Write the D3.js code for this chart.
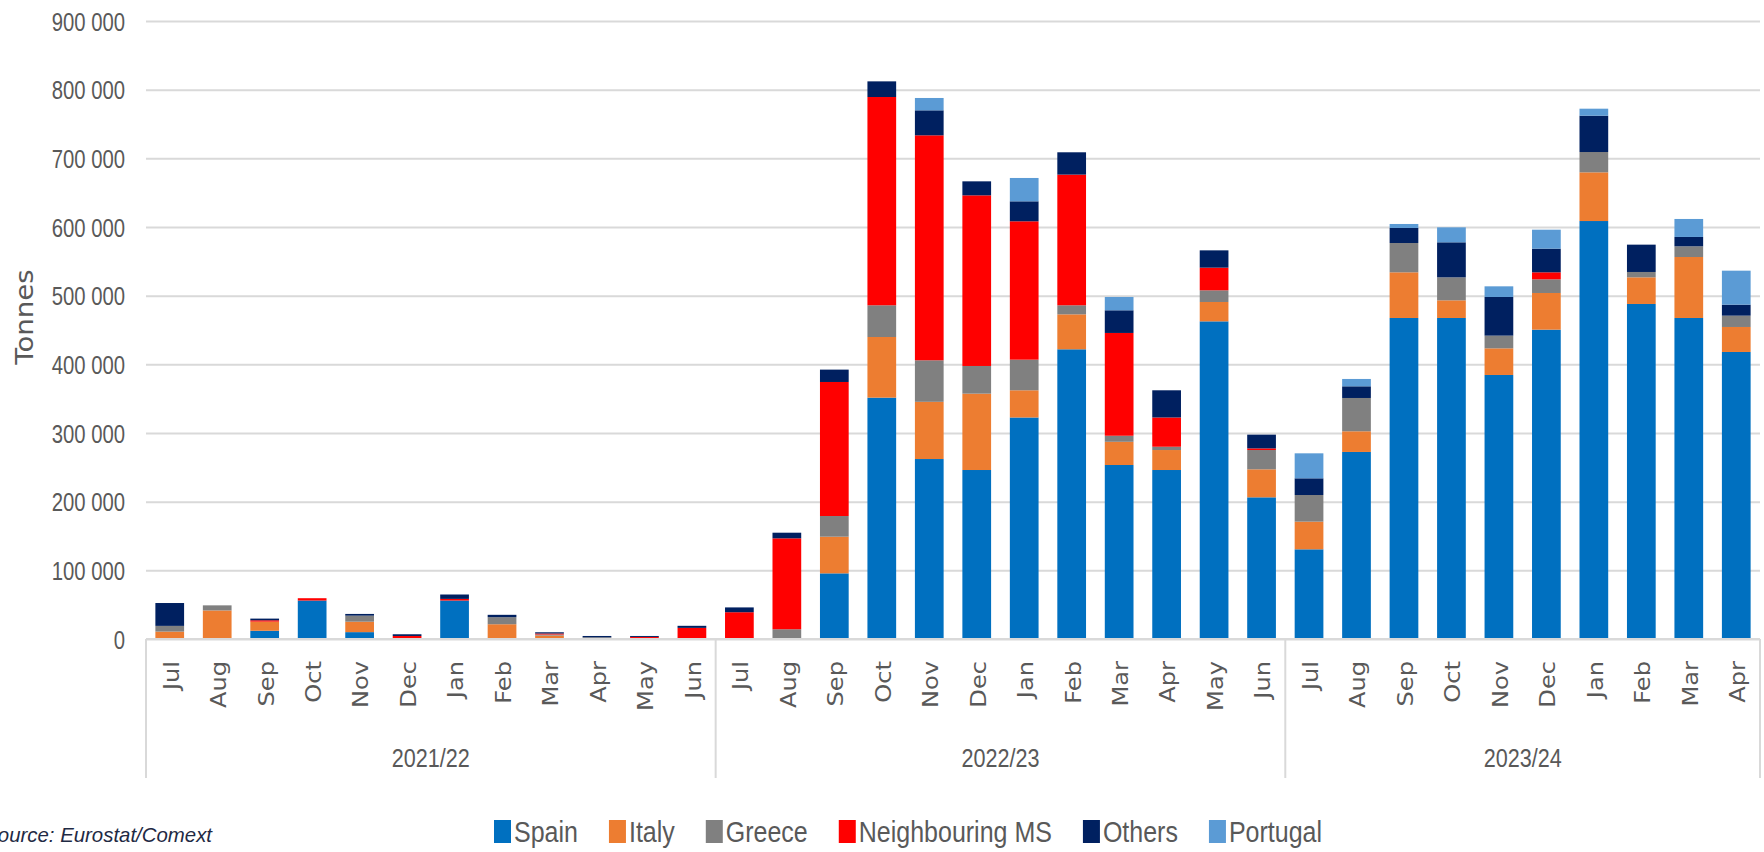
<!DOCTYPE html>
<html>
<head>
<meta charset="utf-8">
<script src="https://cdn.jsdelivr.net/npm/d3@7"></script>
<style>
  body { margin: 0; background: #ffffff; }
  .narrow { font-family: "Liberation Sans", Arial, sans-serif; }
  .wide { font-family: "DejaVu Sans", Verdana, sans-serif; }
</style>
</head>
<body>
<div id="chart"></div>
<script>
// Categories
var seasons = ["2021/22", "2022/23", "2023/24"];
var seasonMonths = [
  ["Jul", "Aug", "Sep", "Oct", "Nov", "Dec", "Jan", "Feb", "Mar", "Apr", "May", "Jun"],
  ["Jul", "Aug", "Sep", "Oct", "Nov", "Dec", "Jan", "Feb", "Mar", "Apr", "May", "Jun"],
  ["Jul", "Aug", "Sep", "Oct", "Nov", "Dec", "Jan", "Feb", "Mar", "Apr"]
];

// Series (tonnes), one value per month in the order above
var spain = [0, 0, 12000, 56000, 10000, 0, 56000, 0, 0, 0, 0, 0,
  0, 0, 95600, 351500, 262100, 246100, 322600, 421900, 253400, 246100, 462600, 206300,
  130600, 272400, 467500, 467500, 384500, 450500, 608700, 487900, 467500, 418000];
var italy = [10800, 41600, 13300, 0, 15200, 0, 0, 21500, 5000, 0, 0, 0,
  0, 0, 53400, 88300, 83300, 111200, 39600, 50900, 33800, 29100, 28200, 40800,
  40300, 30100, 66500, 25700, 38800, 53400, 70900, 38800, 88800, 36400];
var greece = [8300, 7400, 0, 0, 8800, 1400, 0, 10300, 1500, 2500, 1500, 0,
  0, 14200, 30100, 46200, 60500, 40300, 44600, 13200, 8800, 4800, 17000, 28100,
  38800, 48500, 42700, 33500, 18500, 19900, 29600, 7800, 15600, 16500];
var neighbouring = [0, 0, 2000, 3400, 0, 3000, 2400, 0, 1500, 0, 1500, 16200,
  39000, 132400, 195200, 303300, 327600, 248500, 201500, 190300, 149700, 42600, 33000, 2400,
  0, 0, 0, 0, 0, 10200, 0, 0, 0, 0];
var others = [33300, 0, 2400, 0, 2500, 2500, 6400, 3400, 1800, 1900, 1400, 3000,
  7000, 8200, 18000, 22800, 36400, 20400, 29100, 32500, 33000, 39600, 25200, 20000,
  24300, 17000, 21900, 51000, 56300, 34500, 52900, 39800, 13600, 16000];
var portugal = [0, 0, 0, 0, 0, 0, 0, 0, 0, 0, 0, 0,
  0, 0, 0, 0, 18000, 0, 34000, 0, 19400, 0, 0, 0,
  36400, 10700, 5800, 21800, 15500, 27600, 10200, 0, 26200, 49500];

var seriesNames = ["Spain", "Italy", "Greece", "Neighbouring MS", "Others", "Portugal"];
var seriesValues = [spain, italy, greece, neighbouring, others, portugal];
var seriesColors = ["#0070c0", "#ed7d31", "#808080", "#ff0000", "#002060", "#5b9bd5"];

var yTicks = [0, 100000, 200000, 300000, 400000, 500000, 600000, 700000, 800000, 900000];

// Set up chart
var svgWidth = 1764;
var svgHeight = 852;

var margin = {
  top: 21,
  right: 4,
  bottom: 213,
  left: 146
};

var width = svgWidth - margin.left - margin.right;
var height = svgHeight - margin.top - margin.bottom;

var svg = d3.select("#chart")
  .append("svg")
  .attr("width", svgWidth)
  .attr("height", svgHeight);

var chartGroup = svg.append("g")
  .attr("transform", `translate(${margin.left}, ${margin.top})`);

// Build table rows: one per month
var rows = [];
seasons.forEach(function(season, s) {
  seasonMonths[s].forEach(function(month) {
    var i = rows.length;
    var row = { key: season + "-" + month, season: season, month: month };
    seriesNames.forEach(function(name, k) {
      row[name] = seriesValues[k][i];
    });
    rows.push(row);
  });
});

var stackedData = d3.stack().keys(seriesNames)(rows);

// Scales
var xBandScale = d3.scaleBand()
  .domain(rows.map(d => d.key))
  .range([0, width])
  .paddingInner(0.395)
  .paddingOuter(0.1975);

var yLinearScale = d3.scaleLinear()
  .domain([0, 900000])
  .range([height, 0]);

var spaceFormat = d3.formatLocale({ decimal: ".", thousands: " ", grouping: [3], currency: ["", ""] }).format(",d");

// Gridlines + y tick labels (the original text is tall and narrow)
var leftAxis = d3.axisLeft(yLinearScale)
  .tickValues(yTicks)
  .tickSize(-width)
  .tickPadding(21)
  .tickFormat(spaceFormat);

var yAxis = chartGroup.append("g")
  .attr("class", "narrow")
  .call(leftAxis);

yAxis.select(".domain").remove();
yAxis.selectAll(".tick line")
  .attr("stroke", "#d9d9d9")
  .attr("stroke-width", 2);
yAxis.selectAll(".tick text")
  .attr("fill", "#595959")
  .attr("font-size", 20.3)
  .attr("dy", "0.36em")
  .attr("transform", "scale(1, 1.26)");

// Bars
chartGroup.append("g")
  .selectAll("g")
  .data(stackedData)
  .enter()
  .append("g")
  .attr("fill", (d, i) => seriesColors[i])
  .selectAll("rect")
  .data(d => d)
  .enter()
  .append("rect")
  .attr("x", d => xBandScale(d.data.key))
  .attr("width", xBandScale.bandwidth())
  .attr("y", d => yLinearScale(d[1]))
  .attr("height", d => yLinearScale(d[0]) - yLinearScale(d[1]));

// Month labels
var bottomAxis = d3.axisBottom(xBandScale)
  .tickSize(0)
  .tickFormat(k => k.split("-")[1]);

var xAxis = chartGroup.append("g")
  .attr("class", "wide")
  .attr("transform", `translate(0, ${height})`)
  .call(bottomAxis);

xAxis.select(".domain").remove();
xAxis.selectAll(".tick text")
  .attr("transform", "rotate(-90) scale(1.15, 1)")
  .attr("x", -22 / 1.15)
  .attr("y", 0)
  .attr("dy", "0.42em")
  .attr("text-anchor", "end")
  .attr("fill", "#595959")
  .attr("font-size", 21);

// Zero line
chartGroup.append("line")
  .attr("x1", 0)
  .attr("x2", width)
  .attr("y1", yLinearScale(0))
  .attr("y2", yLinearScale(0))
  .attr("stroke", "#d9d9d9")
  .attr("stroke-width", 2);

// Season separators and labels
var gap = (xBandScale.step() - xBandScale.bandwidth()) / 2;
var seasonBounds = [];
var idx = 0;
seasonMonths.forEach(function(months) {
  var first = rows[idx].key;
  var last = rows[idx + months.length - 1].key;
  seasonBounds.push([xBandScale(first) - gap, xBandScale(last) + xBandScale.bandwidth() + gap]);
  idx += months.length;
});

var sepXs = seasonBounds.map(b => b[0]).concat([seasonBounds[seasonBounds.length - 1][1]]);

chartGroup.selectAll(".sep")
  .data(sepXs)
  .enter()
  .append("line")
  .attr("class", "sep")
  .attr("x1", d => d)
  .attr("x2", d => d)
  .attr("y1", height)
  .attr("y2", height + 139)
  .attr("stroke", "#d9d9d9")
  .attr("stroke-width", 2);

chartGroup.selectAll(".seasonLabel")
  .data(seasons)
  .enter()
  .append("text")
  .attr("class", "seasonLabel narrow")
  .attr("transform", (d, i) => `translate(${(seasonBounds[i][0] + seasonBounds[i][1]) / 2}, ${height + 128}) scale(1, 1.2)`)
  .attr("text-anchor", "middle")
  .attr("fill", "#595959")
  .attr("font-size", 21.6)
  .text(d => d);

// Y axis title
svg.append("text")
  .attr("class", "wide")
  .attr("transform", "rotate(-90) scale(1.15, 1)")
  .attr("x", -317 / 1.15)
  .attr("y", 33)
  .attr("text-anchor", "middle")
  .attr("fill", "#595959")
  .attr("font-size", 24)
  .text("Tonnes");

// Legend
var legend = svg.append("g")
  .attr("class", "narrow")
  .attr("transform", "translate(494, 843)");

var legendX = 0;
seriesNames.forEach(function(name, i) {
  legend.append("rect")
    .attr("x", legendX)
    .attr("y", -23)
    .attr("width", 17)
    .attr("height", 23)
    .attr("fill", seriesColors[i]);
  var label = legend.append("text")
    .attr("transform", `translate(${legendX + 20}, -1) scale(1, 1.15)`)
    .attr("fill", "#595959")
    .attr("font-size", 25)
    .text(name);
  legendX += 20 + label.node().getComputedTextLength() + 31;
});

// Source note (cut at the left edge, as in the original)
svg.append("text")
  .attr("class", "narrow")
  .attr("x", 212)
  .attr("y", 842)
  .attr("text-anchor", "end")
  .attr("font-style", "italic")
  .attr("fill", "#1f2a44")
  .attr("font-size", 20.4)
  .text("Source: Eurostat/Comext");
</script>
</body>
</html>
